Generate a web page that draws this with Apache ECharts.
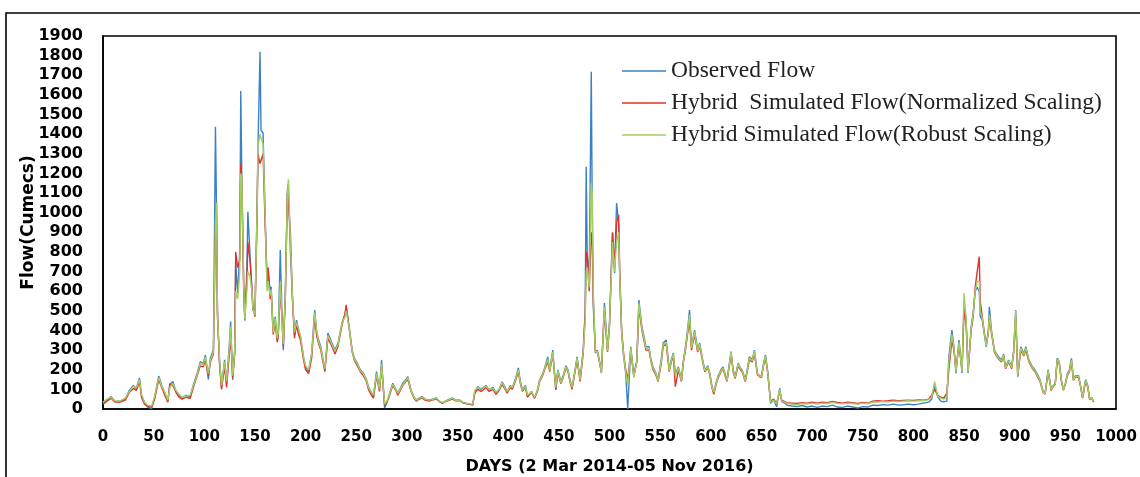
<!DOCTYPE html>
<html>
<head>
<meta charset="utf-8">
<script src="https://cdn.jsdelivr.net/npm/echarts@6/dist/echarts.min.js"></script>
<style>
html,body{margin:0;padding:0;background:#fff;}
#chart{width:1140px;height:477px;}
</style>
</head>
<body>
<div id="chart"></div>
<script>
// ---- DATA ----
const days = [
  0,4,8,12,17,22,26,30,33,36,
  38,41,44,48,51,55,58,61,64,66,
  69,72,75,78,82,86,89,93,96,99,
  101,104,106,109,111,112,113,115,117,120,
  122,125,126,128,130,131,133,135,136,137,
  139,140,142,143,145,147,148,150,152,153,
  155,156,158,160,162,163,165,166,168,170,
  172,173,175,177,178,180,182,183,185,187,
  189,191,193,195,198,200,203,206,209,211,
  213,215,219,222,226,229,232,236,239,240,
  243,246,248,251,254,257,260,262,265,267,
  270,273,275,278,280,282,286,289,291,294,
  296,299,301,304,307,309,312,315,318,322,
  325,329,332,335,338,342,345,348,352,355,
  358,362,365,367,370,373,375,378,381,385,
  388,391,394,397,399,402,404,407,410,412,
  414,417,419,423,426,429,431,434,436,439,
  441,444,447,449,452,454,457,459,461,463,
  466,468,471,474,476,477,478,480,482,483,
  484,486,488,490,492,495,498,500,503,505,
  507,509,510,512,514,516,518,521,524,527,
  529,532,534,536,539,541,543,546,548,551,
  553,556,559,561,563,565,568,571,573,575,
  577,579,581,584,587,589,592,594,597,599,
  601,603,605,607,610,612,614,616,618,620,
  622,624,627,629,631,634,636,638,641,643,
  646,648,650,652,654,656,657,659,662,665,
  668,670,673,675,680,685,690,695,700,705,
  710,715,720,725,730,735,740,745,750,755,
  760,765,770,775,780,785,790,795,800,805,
  810,815,818,821,824,827,830,833,835,838,
  840,842,845,848,850,852,854,857,859,861,
  863,865,866,868,870,872,874,875,877,880,
  882,884,887,889,891,894,897,899,901,903,
  906,909,911,914,917,920,923,925,928,930,
  933,936,938,940,942,944,946,948,950,952,
  954,956,958,960,963,965,967,970,972,974,
  976,978
];
const observedFlow = [
  30,45,63,38,40,50,95,120,105,158,
  70,30,10,2,60,168,120,80,40,125,
  140,90,70,56,70,63,120,182,241,230,
  275,150,260,300,1438,1050,470,250,110,250,
  132,351,445,148,300,742,591,800,1620,1200,
  600,450,700,1005,800,600,504,487,1000,1336,
  1820,1420,1406,1000,620,700,600,623,400,470,
  350,380,810,420,300,600,1115,1150,800,572,
  380,453,400,368,260,215,190,285,504,387,
  350,317,199,387,336,300,336,438,480,521,
  419,300,260,234,200,183,150,114,80,63,
  190,97,250,5,30,63,131,100,81,110,
  132,150,165,97,60,46,55,63,50,46,
  50,56,40,29,40,50,56,45,46,35,
  29,25,20,90,114,100,107,120,97,110,
  81,100,139,110,88,120,107,150,209,140,
  97,120,63,90,56,100,148,180,209,266,
  200,300,97,199,140,165,220,199,150,107,
  200,266,148,300,500,1234,794,657,1718,1000,
  521,285,300,250,183,540,300,438,896,693,
  1049,950,693,387,266,183,0,317,165,250,
  555,419,370,317,317,250,215,180,148,250,
  336,351,199,250,285,180,215,148,250,317,
  400,504,317,402,300,336,250,199,220,183,
  120,81,130,165,200,215,180,148,220,293,
  200,165,234,210,199,148,200,266,250,300,
  183,170,165,230,275,200,148,29,46,12,
  107,37,30,20,15,12,18,10,15,8,
  15,12,20,10,8,15,10,5,12,10,
  20,18,22,20,25,20,22,25,22,25,
  30,35,50,120,63,40,37,40,266,402,
  317,183,351,183,550,453,183,419,489,600,
  620,600,470,453,380,317,402,521,402,300,
  280,266,250,280,215,250,215,300,504,165,
  317,280,317,250,220,200,170,150,90,80,
  200,100,120,130,260,240,150,100,130,180,
  200,258,150,170,170,120,60,150,122,50,
  60,37
];
const normalizedFlow = [
  25,40,55,35,35,45,85,105,95,140,
  60,25,15,10,50,150,110,70,35,130,
  120,85,60,50,60,55,105,170,220,215,
  250,170,240,280,900,1050,500,230,100,220,
  110,300,380,160,280,800,720,760,1250,1150,
  580,470,650,850,760,620,520,470,950,1300,
  1250,1240,1300,950,650,720,560,600,380,440,
  340,370,600,450,320,560,1100,1050,900,560,
  360,430,380,350,250,200,180,260,470,370,
  330,300,190,360,320,280,320,430,490,530,
  410,290,250,220,190,170,140,100,70,55,
  170,90,220,20,35,55,120,95,70,100,
  120,140,150,90,55,40,50,55,45,40,
  45,50,38,30,38,45,50,42,42,32,
  28,24,22,80,100,90,95,110,90,100,
  75,95,125,100,80,110,100,140,190,130,
  90,110,60,85,55,90,140,170,200,240,
  190,280,100,185,130,155,210,190,140,100,
  190,250,140,280,480,800,780,600,900,850,
  560,300,290,240,190,500,290,420,900,720,
  950,990,720,400,280,200,150,300,170,240,
  520,400,350,300,300,240,200,170,140,230,
  320,330,190,240,270,114,200,140,240,300,
  380,450,300,380,290,320,240,190,210,175,
  110,75,120,155,190,205,170,140,210,280,
  190,155,220,200,190,140,190,250,240,285,
  175,165,160,220,260,190,140,40,50,30,
  90,45,38,32,30,28,32,30,35,30,
  35,32,38,33,30,35,32,28,33,30,
  40,42,40,42,45,42,44,45,44,46,
  45,50,70,100,70,60,55,81,200,350,
  300,200,330,200,500,440,200,400,470,620,
  700,776,550,470,390,330,390,470,390,290,
  270,255,240,270,205,240,205,290,470,170,
  300,270,300,240,210,190,160,140,85,75,
  190,95,115,125,250,230,145,95,125,170,
  190,245,145,165,160,115,55,140,115,48,
  55,35
];
const robustFlow = [
  35,50,60,40,42,55,90,115,110,150,
  75,35,20,15,65,160,115,85,45,110,
  130,95,75,60,65,70,115,175,235,225,
  265,180,250,290,950,1050,480,260,120,240,
  140,330,420,170,290,600,560,700,1200,1180,
  620,460,600,700,680,600,510,480,980,1340,
  1400,1380,1350,1000,600,650,580,610,390,460,
  360,390,650,430,330,580,1080,1170,850,580,
  390,440,410,370,265,220,200,280,490,395,
  340,310,205,375,330,295,330,440,470,500,
  415,295,255,230,195,180,145,110,85,70,
  180,100,230,25,40,60,125,100,80,105,
  125,145,160,95,60,45,55,60,50,45,
  48,55,40,32,40,48,55,44,45,34,
  30,26,24,95,110,105,110,115,100,105,
  85,100,135,105,90,115,110,145,200,135,
  95,115,70,88,60,95,145,175,205,255,
  195,290,110,195,135,160,215,195,145,110,
  195,260,150,290,450,700,720,620,1150,1100,
  600,290,295,245,185,520,295,430,850,700,
  850,900,700,390,270,190,120,310,160,245,
  540,410,360,310,310,245,210,175,145,240,
  330,340,195,245,280,170,210,145,245,310,
  390,480,310,395,295,330,245,195,215,180,
  115,85,125,160,195,210,175,145,215,290,
  195,160,230,205,195,145,195,260,245,295,
  180,168,162,225,270,195,145,35,45,25,
  100,40,35,28,25,22,28,25,30,25,
  30,28,34,28,26,30,28,24,30,27,
  35,36,38,36,40,38,40,42,40,42,
  42,48,60,139,65,55,50,60,240,380,
  310,190,340,190,590,460,190,410,480,600,
  650,650,500,460,385,320,395,480,400,295,
  275,260,245,275,210,245,210,295,500,170,
  310,275,310,245,215,195,165,145,88,78,
  195,98,118,128,255,235,148,98,128,175,
  195,250,148,168,165,118,58,145,120,50,
  58,38
];
const seriesNames = [
  'Observed Flow',
  'Hybrid  Simulated Flow(Normalized Scaling)',
  'Hybrid Simulated Flow(Robust Scaling)'
];
const xAxisTitle = 'DAYS (2 Mar 2014-05 Nov 2016)';
const yAxisTitle = 'Flow(Cumecs)';

// ---- CHART ----
const pair = (vals) => days.map((d, i) => [d, vals[i]]);
const colors = ['#3A82C4', '#E2322B', '#A3CF62'];
const chart = echarts.init(document.getElementById('chart'), null, {renderer: 'canvas'});
const labelFont = {fontFamily: 'DejaVu Sans', fontWeight: 'bold', color: '#000'};
const plain = (v) => String(v);

chart.setOption({
  animation: false,
  backgroundColor: '#fff',
  color: colors,
  graphic: [{
    type: 'rect',
    shape: {x: 6, y: 13, width: 1200, height: 520},
    style: {fill: 'none', stroke: '#000', lineWidth: 1.6},
    silent: true
  }],
  grid: {
    left: 103, top: 36, right: 24, bottom: 68,
    outerBoundsMode: 'none', containLabel: false,
    show: true, borderColor: '#000', borderWidth: 1.6, backgroundColor: 'transparent'
  },
  legend: {
    orient: 'vertical',
    left: 622, top: 59, padding: 0,
    icon: 'rect',
    itemWidth: 44, itemHeight: 1.5, itemGap: 8,
    textStyle: {fontFamily: 'Liberation Serif', fontSize: 23.5, color: '#222'},
    data: seriesNames
  },
  xAxis: {
    type: 'value', min: 0, max: 1000, interval: 50,
    name: xAxisTitle, nameLocation: 'middle', nameGap: 50, nameMoveOverlap: false,
    nameTextStyle: Object.assign({fontSize: 16}, labelFont),
    axisLine: {show: true, lineStyle: {color: '#000', width: 1.6}},
    axisTick: {show: false},
    splitLine: {show: false},
    axisLabel: Object.assign({fontSize: 15, margin: 21, formatter: plain}, labelFont)
  },
  yAxis: {
    type: 'value', min: 0, max: 1900, interval: 100,
    name: yAxisTitle, nameLocation: 'middle', nameGap: 66, nameMoveOverlap: false,
    nameTextStyle: Object.assign({fontSize: 17}, labelFont),
    axisLine: {show: true, lineStyle: {color: '#000', width: 1.6}},
    axisTick: {show: false},
    splitLine: {show: false},
    axisLabel: Object.assign({fontSize: 16, margin: 20, formatter: plain}, labelFont)
  },
  series: [
    {name: seriesNames[0], type: 'line', data: pair(observedFlow), symbol: 'none',
     lineStyle: {width: 1.4, color: colors[0]}, itemStyle: {color: colors[0]}},
    {name: seriesNames[1], type: 'line', data: pair(normalizedFlow), symbol: 'none',
     lineStyle: {width: 1.4, color: colors[1]}, itemStyle: {color: colors[1]}},
    {name: seriesNames[2], type: 'line', data: pair(robustFlow), symbol: 'none',
     lineStyle: {width: 1.4, color: colors[2]}, itemStyle: {color: colors[2]}}
  ]
});
</script>
</body>
</html>
